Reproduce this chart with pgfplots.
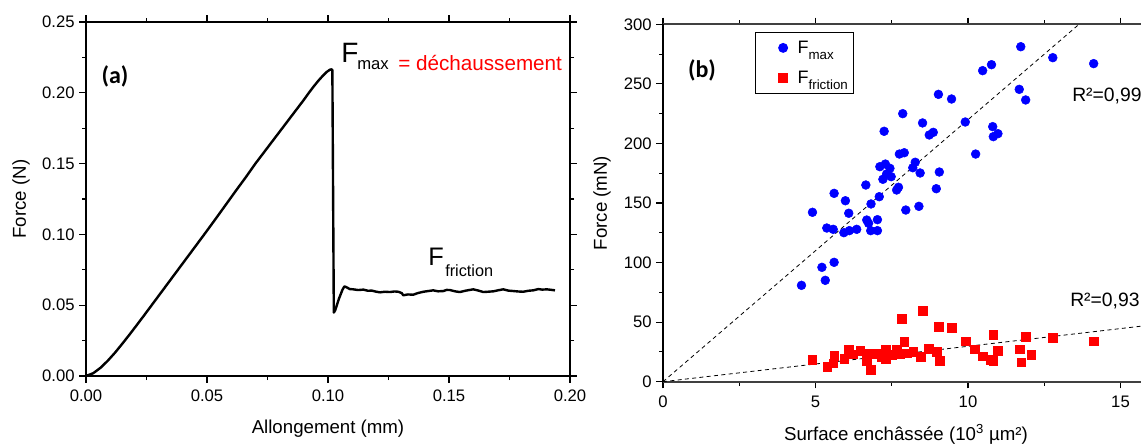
\documentclass[border=0pt]{standalone}
\usepackage{pgfplots}
\pgfplotsset{compat=1.18}
\usepackage{fontspec}
\setmainfont{Liberation Sans}
\newfontfamily\carlito{Carlito}
\begin{document}
\begin{tikzpicture}
\useasboundingbox (0,0) rectangle (855.75pt,333pt);
% ---------------- (a) ----------------
\begin{axis}[
  at={(64.5pt,51pt)}, anchor=south west, scale only axis,
  width=363pt, height=265.5pt,
  xmin=0, xmax=0.2, ymin=0, ymax=0.25,
  xtick={0,0.05,0.1,0.15,0.2}, xticklabels={0.00,0.05,0.10,0.15,0.20},
  ytick={0,0.05,0.1,0.15,0.2,0.25}, yticklabels={0.00,0.05,0.10,0.15,0.20,0.25},
  minor tick num=1, tick align=outside,
  major tick length=5pt, minor tick length=3pt,
  every tick/.style={black, line width=0.8pt},
  axis line style={line width=1pt},
  /pgf/number format/assume math mode=true,
  ticklabel style={font=\fontsize{12.5}{12.5}\selectfont},
  xticklabel style={yshift=-2pt},
  clip=false,
]
\addplot[black, line width=1.8pt, line join=round] coordinates {
(0,0) (0.003,0.002) (0.006,0.0058) (0.009,0.0108) (0.012,0.0165) (0.015,0.0228)
(0.018,0.0293) (0.021,0.036) (0.024,0.0428) (0.027,0.0497) (0.030,0.0566)
(0.034,0.0658) (0.038,0.075) (0.042,0.0842) (0.046,0.0934) (0.0493,0.1010)
(0.054,0.112) (0.058,0.1215) (0.062,0.131) (0.066,0.1403) (0.070,0.1500)
(0.074,0.159) (0.078,0.168) (0.082,0.177) (0.086,0.186) (0.090,0.195)
(0.0921,0.200) (0.094,0.2043) (0.096,0.2085) (0.098,0.2123) (0.0995,0.2148)
(0.1008,0.2163) (0.1015,0.2166) (0.1018,0.216) (0.1021,0.13) (0.1024,0.0448)
(0.1030,0.0465) (0.1045,0.0545) (0.106,0.061) (0.1068,0.0633) (0.1075,0.0628)
(0.109,0.0614) (0.1105,0.0612) (0.1125,0.0607) (0.1146,0.0610) (0.1165,0.0602)
(0.1181,0.0603) (0.1200,0.0595) (0.1215,0.0591) (0.1235,0.0595) (0.1256,0.0593)
(0.1275,0.0597) (0.1291,0.0595) (0.1305,0.0585) (0.1311,0.0570) (0.1330,0.0576)
(0.1352,0.0574) (0.1372,0.0586) (0.1394,0.0595) (0.1415,0.0600) (0.1435,0.0605)
(0.1455,0.0598) (0.1477,0.0600) (0.1490,0.0608) (0.1504,0.0607) (0.1525,0.0598)
(0.1545,0.0593) (0.1570,0.0603) (0.1600,0.0612) (0.1620,0.0604) (0.1642,0.0593)
(0.1660,0.0595) (0.1683,0.0598) (0.1705,0.0606) (0.1724,0.0612) (0.1745,0.0603)
(0.1766,0.0600) (0.1785,0.0597) (0.1807,0.0595) (0.1828,0.0602) (0.1848,0.0605)
(0.1869,0.0614) (0.1885,0.0610) (0.1904,0.0612) (0.1920,0.0609) (0.1938,0.0605)
};
\end{axis}
% ---------------- (b) ----------------
\begin{axis}[
  at={(497.25pt,46.725pt)}, anchor=south west, scale only axis,
  width=358.5pt, height=268.05pt,
  xmin=0, xmax=15.672, ymin=0, ymax=300,
  axis x line*=box, axis y line*=left,
  xtick={0,5,10,15}, ytick={0,50,100,150,200,250,300},
  minor tick num=1, tick align=outside,
  major tick length=5pt, minor tick length=3pt,
  every tick/.style={black, line width=0.8pt},
  x axis line style={line width=1.3pt, black!75},
  y axis line style={line width=1pt, black},
  /pgf/number format/assume math mode=true,
  ticklabel style={font=\fontsize{12.5}{12.5}\selectfont},
  xticklabel style={yshift=-2pt},
  legend style={at={(rel axis cs:0.1925,0.978)}, anchor=north west,
    draw=black, line width=0.8pt, inner xsep=2pt, inner ysep=4pt,
    row sep=8pt, font=\fontsize{13.5}{13.5}\selectfont},
  legend cell align=left,
  legend image code/.code={%
    \path (-9.75pt,0pt) (17pt,0pt);
    \draw[mark repeat=2,mark phase=2,#1] plot coordinates {(0cm,0cm) (0.3cm,0cm) (0.6cm,0cm)};},
]
\addplot[black, line width=0.6pt, dash pattern=on 3pt off 2.5pt, forget plot] coordinates {(0,0) (13.64,300)};
\addplot[black, line width=0.6pt, dash pattern=on 3pt off 2.5pt, forget plot] coordinates {(0,0) (15.672,46.6)};
\addplot[only marks, mark=*, mark size=3.3pt, mark options={fill=blue, draw=blue}] coordinates {
(11.73,281.2) (12.78,272.0) (14.12,267.0) (10.77,266.1) (10.48,261.1) (11.68,245.4)
(11.89,236.5) (9.03,241.2) (9.46,237.3) (7.86,225.0) (9.91,218.0) (8.51,217.2)
(10.81,214.1) (7.25,210.2) (8.86,209.3) (8.73,207.1) (10.98,208.2) (10.83,205.7)
(10.25,191.1) (7.91,192.2) (7.75,191.1) (8.27,184.2) (7.29,182.7) (7.11,180.5)
(7.44,179.1) (8.19,179.6) (8.43,175.2) (9.06,176.0) (7.33,174.3) (7.48,172.1)
(7.21,169.9) (6.65,165.1) (7.72,163.2) (7.66,160.9) (8.96,162.0) (5.61,158.1)
(7.09,155.3) (5.98,151.9) (6.82,149.2) (8.39,147.2) (7.96,144.1) (4.90,142.2)
(6.09,141.4) (6.68,135.7) (7.03,136.0) (6.74,133.0) (5.37,129.0) (5.58,127.9)
(5.93,125.1) (6.11,126.8) (6.35,127.9) (6.81,126.8) (7.03,126.8) (5.61,100.2)
(5.21,96.0) (5.32,85.1) (4.54,80.9)
};
\addlegendentry{F\raisebox{-4.5pt}{\fontsize{10}{10}\selectfont max}}
\addplot[only marks, mark=square*, mark size=3.2pt, mark options={fill=red, draw=red}] coordinates {
(4.90,18.5) (5.38,12.6) (5.58,15.4) (5.62,21.6) (5.94,19.3) (6.09,27.4) (6.22,23.0)
(6.46,26.0) (6.68,17.4) (6.73,23.5) (6.82,9.8) (7.01,23.5) (7.18,21.0) (7.30,27.2)
(7.30,19.3) (7.50,22.4) (7.66,26.6) (7.77,23.3) (7.82,52.9) (7.91,33.6) (7.99,23.8)
(8.21,25.2) (8.45,21.0) (8.52,59.6) (8.72,27.7) (8.97,25.2) (9.04,46.2) (9.07,17.6)
(9.47,45.1) (9.92,33.9) (10.23,27.2) (10.48,21.3) (10.75,18.2) (10.83,39.5)
(10.83,17.8) (10.98,25.8) (11.70,27.4) (11.75,16.5) (11.89,37.8) (12.07,22.4)
(12.78,36.9) (14.12,33.9)
};
\addlegendentry{F\raisebox{-4.5pt}{\fontsize{10}{10}\selectfont friction}}
\end{axis}
% ---------------- texts ----------------
\node[font=\carlito\bfseries\fontsize{18}{18}\selectfont] at (86.25pt,276pt) {(a)};
\node[font=\carlito\bfseries\fontsize{18}{18}\selectfont] at (526.5pt,280.5pt) {(b)};
\node[inner sep=0, anchor=base west, font=\fontsize{21}{21}\selectfont] at (255.75pt,286.5pt) {F};
\node[inner sep=0, anchor=base west, font=\fontsize{12.5}{12.5}\selectfont] at (267.75pt,281.25pt) {max};
\node[inner sep=0, anchor=base west, text=red, font=\fontsize{15.5}{15.5}\selectfont] at (298.5pt,279.975pt) {= déchaussement};
\node[inner sep=0, anchor=base west, font=\fontsize{19}{19}\selectfont] at (321pt,134.25pt) {F};
\node[inner sep=0, anchor=base west, font=\fontsize{12.2}{12.2}\selectfont] at (333.75pt,126pt) {friction};
\node[inner sep=0, anchor=base west, font=\fontsize{14.5}{14.5}\selectfont] at (804pt,257.25pt) {R²=0,99};
\node[inner sep=0, anchor=base west, font=\fontsize{14.5}{14.5}\selectfont] at (802.5pt,103.5pt) {R²=0,93};
\node[inner sep=0, anchor=base, font=\fontsize{14}{14}\selectfont] at (246pt,8pt) {Allongement (mm)};
\node[inner sep=0, anchor=center, rotate=90, font=\fontsize{14}{14}\selectfont] at (15.75pt,183.75pt) {Force (N)};
\node[inner sep=0, anchor=center, rotate=90, font=\fontsize{14}{14}\selectfont] at (451.5pt,180.75pt) {Force (mN)};
\node[inner sep=0, anchor=base, font=\fontsize{14}{14}\selectfont] at (679.5pt,3pt) {Surface enchâssée (10\textsuperscript{3} µm²)};
\end{tikzpicture}
\end{document}
